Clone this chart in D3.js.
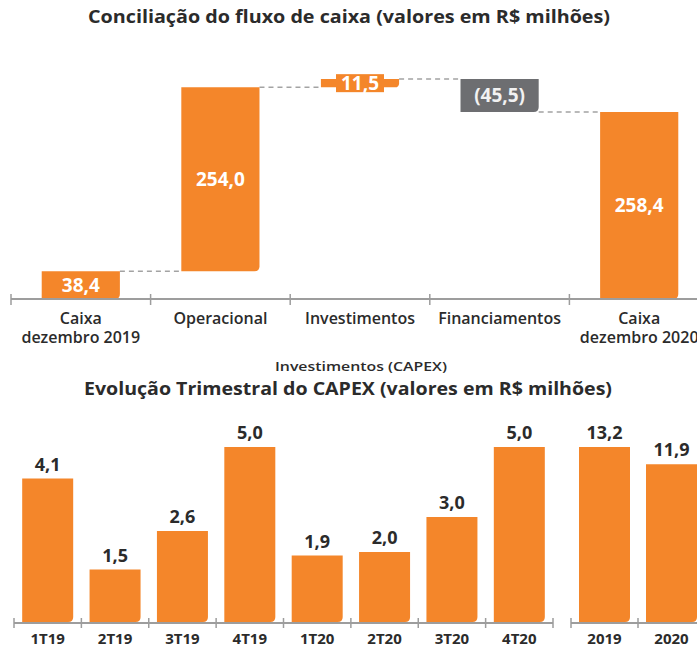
<!DOCTYPE html>
<html>
<head>
<meta charset="utf-8">
<script src="https://cdn.jsdelivr.net/npm/d3@7"></script>
<style>
  body { margin: 0; background: #fff; }
  svg { display: block; font-family: "Open Sans", sans-serif; }
</style>
</head>
<body>
<svg id="chart" width="697" height="646"></svg>
<script>
// fluxo de caixa (waterfall)
var flowCats = ["Caixa\ndezembro 2019", "Operacional", "Investimentos", "Financiamentos", "Caixa\ndezembro 2020"];
var flowValues = [38.4, 254.0, 11.5, -45.5, 258.4];
var flowIsTotal = [true, false, false, false, true];

// capex
var quarters = ["1T19", "2T19", "3T19", "4T19", "1T20", "2T20", "3T20", "4T20"];
var quarterValues = [4.1, 1.5, 2.6, 5.0, 1.9, 2.0, 3.0, 5.0];
var years = ["2019", "2020"];
var yearValues = [13.2, 11.9];

var orange = "#f4862a", grey = "#6d6e71", axisGrey = "#9d9d9d", dark = "#2b2b2b";

var br = d3.formatLocale({ decimal: ",", thousands: ".", grouping: [3], currency: ["R$", ""] });
var fmt = br.format(".1f");
function label(v) { return v < 0 ? "(" + fmt(-v) + ")" : fmt(v); }

// bar with only the bottom-right corner rounded
function bar(x, y, w, h, r) {
  r = Math.min(r, h / 2, w / 2);
  return "M" + x + "," + y + "h" + w + "v" + (h - r) +
    "q0," + r + " " + (-r) + "," + r + "h" + (-(w - r)) + "z";
}

var svg = d3.select("#chart");

// titles
svg.append("text").attr("x", 349).attr("y", 23).attr("text-anchor", "middle")
  .attr("font-size", 18).attr("font-weight", 700).attr("fill", dark)
  .attr("textLength", 522).attr("lengthAdjust", "spacingAndGlyphs")
  .text("Conciliação do fluxo de caixa (valores em R$ milhões)");
svg.append("text").attr("x", 361).attr("y", 371).attr("text-anchor", "middle")
  .attr("font-size", 13).attr("font-weight", 600).attr("fill", dark)
  .attr("textLength", 172).attr("lengthAdjust", "spacingAndGlyphs")
  .text("Investimentos (CAPEX)");
svg.append("text").attr("x", 348).attr("y", 395).attr("text-anchor", "middle")
  .attr("font-size", 18).attr("font-weight", 700).attr("fill", dark)
  .attr("textLength", 528).attr("lengthAdjust", "spacingAndGlyphs")
  .text("Evolução Trimestral do CAPEX (valores em R$ milhões)");

// ---- waterfall ----
var flow = svg.append("g");
var x = d3.scaleBand().domain(flowCats).range([11, 709]);
var steps = [];
var run = 0;
flowValues.forEach(function(v, i) {
  if (flowIsTotal[i]) { steps.push({ c: flowCats[i], v: v, y0: 0, y1: v }); run = v; }
  else { steps.push({ c: flowCats[i], v: v, y0: run, y1: run + v }); run += v; }
});
var y = d3.scaleLinear().domain([0, d3.max(steps, function(d) { return Math.max(d.y0, d.y1); })]).range([299, 79]);
var bw = x.bandwidth() * 0.56;

// connectors
steps.slice(0, -1).forEach(function(d, i) {
  flow.append("line")
    .attr("x1", x(d.c) + (x.bandwidth() + bw) / 2).attr("x2", x(steps[i + 1].c) + (x.bandwidth() - bw) / 2)
    .attr("y1", y(d.y1)).attr("y2", y(d.y1))
    .attr("stroke", "#a3a3a3").attr("stroke-width", 1.5).attr("stroke-dasharray", "5,4");
});

flow.selectAll("path.bar").data(steps).enter().append("path")
  .attr("class", "bar")
  .attr("d", function(d) {
    var y0 = y(Math.max(d.y0, d.y1)), y1 = y(Math.min(d.y0, d.y1));
    return bar(x(d.c) + (x.bandwidth() - bw) / 2, y0, bw, y1 - y0, 5);
  })
  .attr("fill", function(d) { return d.v < 0 ? grey : orange; });

// axis
flow.append("line").attr("x1", 11).attr("x2", 697).attr("y1", 299).attr("y2", 299)
  .attr("stroke", axisGrey).attr("stroke-width", 2);
flow.selectAll("line.tick").data(flowCats.concat(["end"])).enter().append("line")
  .attr("class", "tick")
  .attr("x1", function(d, i) { return 11 + i * x.bandwidth(); })
  .attr("x2", function(d, i) { return 11 + i * x.bandwidth(); })
  .attr("y1", 294).attr("y2", 305).attr("stroke", axisGrey).attr("stroke-width", 1.5);

// value labels
steps.forEach(function(d) {
  var cx = x(d.c) + x.bandwidth() / 2;
  var cy = (y(d.y0) + y(d.y1)) / 2;
  var small = Math.abs(y(d.y0) - y(d.y1)) < 16;
  if (small) {
    flow.append("rect").attr("x", cx - 24).attr("y", cy - 9).attr("width", 48).attr("height", 18).attr("fill", orange);
  }
  flow.append("text").attr("x", cx).attr("y", cy).attr("dy", "0.36em")
    .attr("text-anchor", "middle").attr("font-size", 19).attr("font-weight", 700)
    .attr("fill", d.v < 0 ? "#f2f2f2" : "#fff").text(label(d.v));
});

// category labels
flowCats.forEach(function(c) {
  var lines = c.split("\n");
  var t = flow.append("text").attr("x", x(c) + x.bandwidth() / 2).attr("y", 324)
    .attr("text-anchor", "middle").attr("font-size", 16).attr("font-weight", 600).attr("fill", dark);
  lines.forEach(function(l, i) {
    t.append("tspan").attr("x", x(c) + x.bandwidth() / 2).attr("dy", i ? 19 : 0).text(l);
  });
});

// ---- capex ----
var bot = svg.append("g");
var base = 622;
var xq = d3.scaleBand().domain(quarters).range([14, 553]);
var xa = d3.scaleBand().domain(years).range([571, 705]);
var yq = d3.scaleLinear().domain([0, d3.max(quarterValues)]).range([base, 447]);
var ya = d3.scaleLinear().domain([0, d3.max(yearValues)]).range([base, 447]);
var qbw = 51;

function drawGroup(cats, vals, xs, ys) {
  bot.selectAll(null).data(cats).enter().append("path")
    .attr("d", function(c, i) { return bar(xs(c) + (xs.bandwidth() - qbw) / 2, ys(vals[i]), qbw, base - ys(vals[i]), 5); })
    .attr("fill", orange);
  bot.selectAll(null).data(cats).enter().append("text")
    .attr("x", function(c) { return xs(c) + xs.bandwidth() / 2; })
    .attr("y", function(c, i) { return ys(vals[i]) - 8; })
    .attr("text-anchor", "middle").attr("font-size", 18).attr("font-weight", 700).attr("fill", dark)
    .text(function(c, i) { return fmt(vals[i]); });
  var r = xs.range();
  bot.append("line").attr("x1", r[0]).attr("x2", Math.min(r[1], 697)).attr("y1", base + 1).attr("y2", base + 1)
    .attr("stroke", axisGrey).attr("stroke-width", 2);
  bot.selectAll(null).data(d3.range(cats.length + 1)).enter().append("line")
    .attr("x1", function(i) { return r[0] + i * xs.bandwidth(); })
    .attr("x2", function(i) { return r[0] + i * xs.bandwidth(); })
    .attr("y1", base - 4).attr("y2", base + 6).attr("stroke", axisGrey).attr("stroke-width", 1.5);
  bot.selectAll(null).data(cats).enter().append("text")
    .attr("x", function(c) { return xs(c) + xs.bandwidth() / 2; })
    .attr("y", 644).attr("text-anchor", "middle").attr("font-size", 15).attr("font-weight", 700)
    .attr("fill", dark).text(function(c) { return c; });
}
drawGroup(quarters, quarterValues, xq, yq);
drawGroup(years, yearValues, xa, ya);
</script>
</body>
</html>
